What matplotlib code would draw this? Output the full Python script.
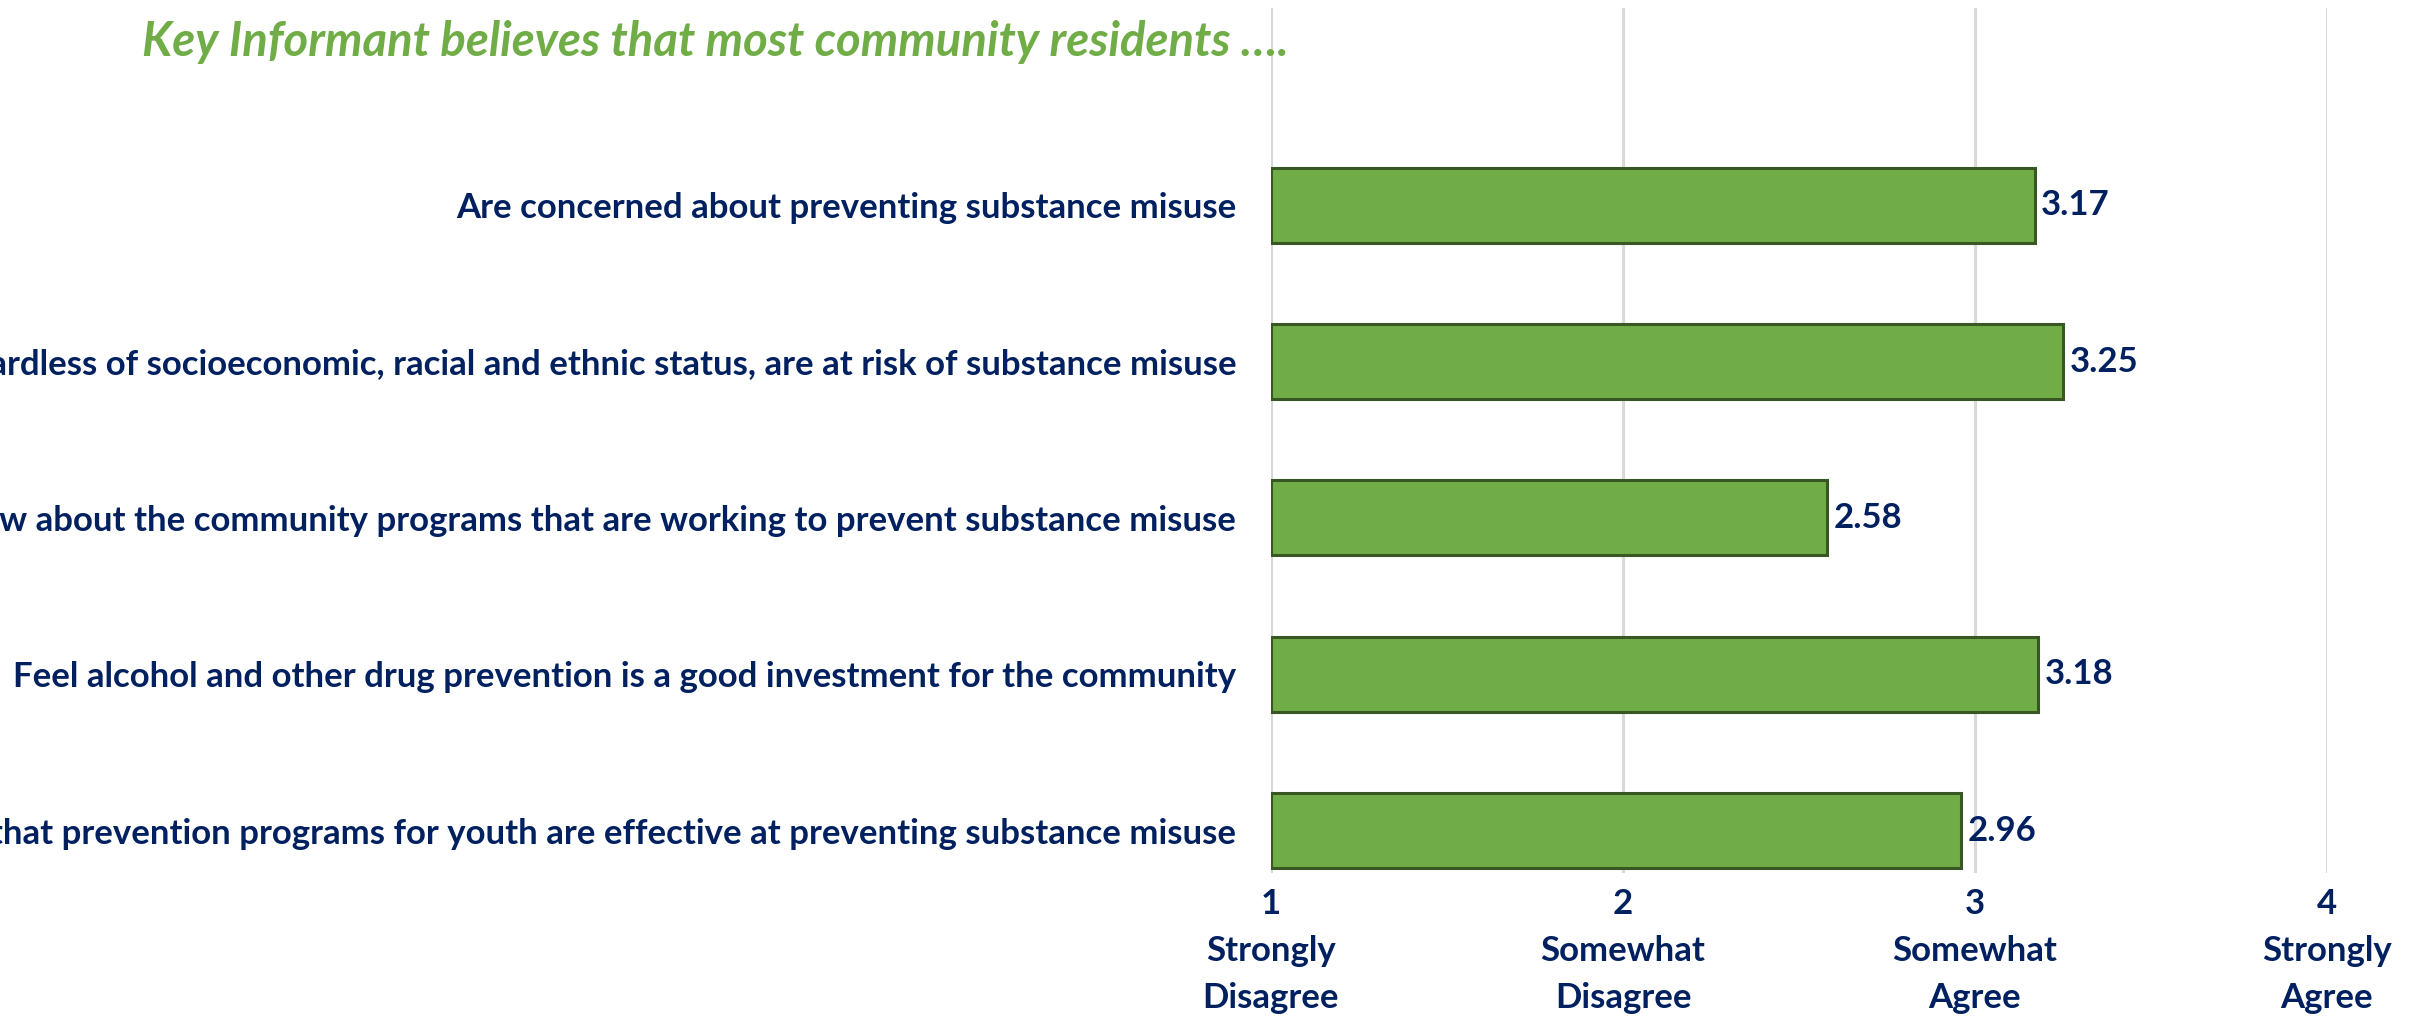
import matplotlib
matplotlib.use("Agg")
import matplotlib.pyplot as plt

categories = [
    "Are concerned about preventing substance misuse",
    "Regardless of socioeconomic, racial and ethnic status, are at risk of substance misuse",
    "Know about the community programs that are working to prevent substance misuse",
    "Feel alcohol and other drug prevention is a good investment for the community",
    "Believe that prevention programs for youth are effective at preventing substance misuse",
]
values = [3.17, 3.25, 2.58, 3.18, 2.96]
tick_values = [1, 2, 3, 4]
tick_labels = ["1\nStrongly\nDisagree", "2\nSomewhat\nDisagree", "3\nSomewhat\nAgree", "4\nStrongly\nAgree"]
title = "Key Informant believes that most community residents …."

NAVY = "#002060"
GREEN = "#70AD47"
EDGE = "#385723"
FONT = "Lato"
FS = 25

fig = plt.figure(figsize=(24.24, 10.19), dpi=100)
ax = fig.add_axes([1271 / 2424, 1 - 873 / 1019, (2327 - 1271) / 2424, (873 - 8) / 1019])

n = len(categories)
ypos = [n - 1 - i for i in range(n)]
ax.barh(ypos, [v - 1 for v in values], left=1, height=0.48, color=GREEN,
        edgecolor=EDGE, linewidth=2.2, zorder=3)

for y, v in zip(ypos, values):
    ax.text(v + 0.018, y, f"{v:.2f}", va="center", ha="left", color=NAVY,
            fontsize=FS, fontweight="bold", family=FONT)

ax.set_xlim(1, 4)
ax.set_ylim(-0.27, n - 1 + 1.26)
ax.set_xticks(tick_values)
ax.set_xticklabels(tick_labels, fontsize=FS, fontweight="bold", color=NAVY,
                   family=FONT, linespacing=1.58)
ax.tick_params(axis="x", length=0, pad=11)
ax.set_yticks(ypos)
ax.set_yticklabels(categories, fontsize=FS, fontweight="bold", color=NAVY, family=FONT)
ax.tick_params(axis="y", length=0, pad=25)

ax.grid(axis="x", color="#D9D9D9", linewidth=2.2, zorder=0)
for s in ax.spines.values():
    s.set_visible(False)

fig.text(142 / 2424, 1 - 42 / 1019, title, fontsize=34, fontweight="bold",
         style="italic", color=GREEN, family=FONT, ha="left", va="center")

fig.savefig("out.png", dpi=100, facecolor="white")
